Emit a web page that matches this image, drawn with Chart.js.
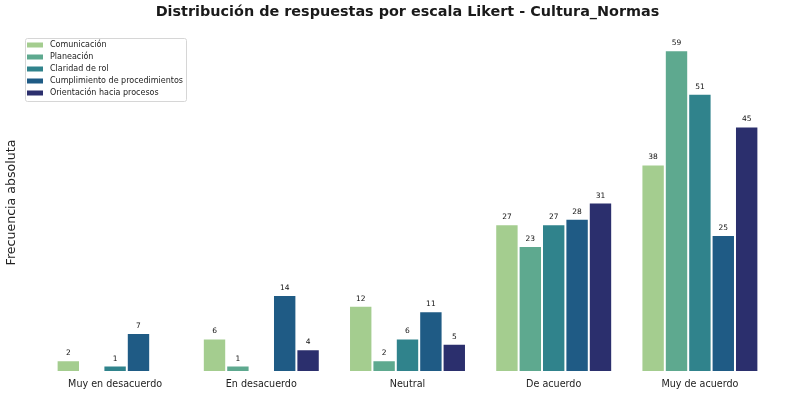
<!DOCTYPE html>
<html>
<head>
<meta charset="utf-8">
<script src="https://cdn.jsdelivr.net/npm/chart.js@4"></script>
<style>
  html, body { margin: 0; padding: 0; background: #fff; }
  #wrap { width: 800px; height: 395px; }
</style>
</head>
<body>
<div id="wrap"><canvas id="myChart" width="800" height="395"></canvas></div>
<script>
const ctx = document.getElementById('myChart').getContext('2d');
const titleText = 'Distribución de respuestas por escala Likert - Cultura_Normas';
const categories = ["Muy en desacuerdo", "En desacuerdo", "Neutral", "De acuerdo", "Muy de acuerdo"];
const seriesNames = ["Comunicación", "Planeación", "Claridad de rol", "Cumplimiento de procedimientos", "Orientación hacia procesos"];
const comunicacion = [2, 6, 12, 27, 38];
const planeacion = [0, 1, 2, 23, 59];
const claridad = [1, 0, 6, 27, 51];
const cumplimiento = [7, 14, 11, 28, 25];
const orientacion = [0, 4, 5, 31, 45];
const colorHex = ["#a4cd8f", "#5ea98f", "#30838c", "#1f5b85", "#2b2f6d"];

const font = "'DejaVu Sans', sans-serif";
const allValues = [comunicacion, planeacion, claridad, cumplimiento, orientacion];

// title centred over the plot area (matplotlib style)
const axesTitle = {
    id: 'axesTitle',
    afterDraw(chart) {
        const c = chart.ctx;
        const a = chart.chartArea;
        c.save();
        c.font = 'bold 14.4px ' + font;
        c.fillStyle = '#1a1a1a';
        c.textAlign = 'center';
        c.textBaseline = 'middle';
        c.fillText(titleText, (a.left + a.right) / 2, 12);
        c.restore();
    }
};

// value labels above bars (zeros skipped)
const barLabels = {
    id: 'barLabels',
    afterDatasetsDraw(chart) {
        const c = chart.ctx;
        c.save();
        c.font = '7.5px ' + font;
        c.fillStyle = '#111';
        c.textAlign = 'center';
        c.textBaseline = 'alphabetic';
        chart.data.datasets.forEach((ds, i) => {
            chart.getDatasetMeta(i).data.forEach((bar, j) => {
                const v = ds.data[j];
                if (!v) return;
                c.fillText(String(v), bar.x, bar.y - 5);
            });
        });
        c.restore();
    }
};

// legend box in the upper left, like matplotlib
const boxLegend = {
    id: 'boxLegend',
    afterDraw(chart) {
        const c = chart.ctx;
        const x0 = 25, y0 = 38, w = 161, h = 63;
        c.save();
        c.fillStyle = 'rgba(255,255,255,0.8)';
        c.strokeStyle = '#d6d6d6';
        c.lineWidth = 1;
        c.beginPath();
        c.roundRect(x0 + 0.5, y0 + 0.5, w, h, 2);
        c.fill();
        c.stroke();
        c.font = '8px ' + font;
        c.textBaseline = 'middle';
        chart.data.datasets.forEach((ds, i) => {
            const y = y0 + 7 + i * 12;
            c.fillStyle = ds.backgroundColor;
            c.fillRect(x0 + 2, y - 2.5, 16, 5);
            c.fillStyle = '#222';
            c.fillText(ds.label, x0 + 25, y);
        });
        c.restore();
    }
};

const myChart = new Chart(ctx, {
    type: 'bar',
    data: {
        labels: categories,
        datasets: allValues.map((vals, i) => ({
            label: seriesNames[i],
            data: vals,
            backgroundColor: colorHex[i],
            borderColor: '#ffffff',
            borderWidth: 1,
            categoryPercentage: 0.8,
            barPercentage: 1.0
        }))
    },
    options: {
        responsive: false,
        animation: false,
        layout: { padding: { left: 0, right: 27, top: 34, bottom: 0 } },
        plugins: {
            legend: { display: false },
            tooltip: { enabled: false },
            title: { display: false }
        },
        scales: {
            x: {
                grid: { display: false, drawTicks: false },
                border: { display: false },
                ticks: { color: '#222', font: { family: font, size: 9.6 }, padding: 7.5 },
                afterFit: (scale) => { scale.height = 24; }
            },
            y: {
                min: 0,
                max: 62,
                grid: { display: false, drawTicks: false },
                border: { display: false },
                ticks: { display: false },
                title: {
                    display: true,
                    text: 'Frecuencia absoluta',
                    color: '#222',
                    font: { family: font, size: 12.6 },
                    padding: { top: 4, bottom: 0 }
                },
                afterFit: (scale) => { scale.width = 42; }
            }
        }
    },
    plugins: [barLabels, boxLegend, axesTitle]
});
</script>
</body>
</html>
